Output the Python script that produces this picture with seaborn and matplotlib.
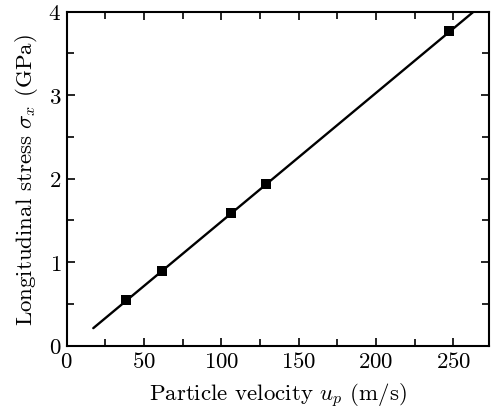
import numpy as np
import matplotlib
matplotlib.use('Agg')
import matplotlib.pyplot as plt
import seaborn as sns
import pandas as pd

# measured points
up = [38.2, 61.5, 106.3, 129.0, 247.4]
sigma = [0.55, 0.895, 1.59, 1.937, 3.77]
# fitted line end points
fit_up = [17.2, 263.0]
fit_sigma = [0.21, 4.0]

sns.set_theme(style='ticks')
plt.rcParams['font.family'] = ['cmr10', 'DejaVu Serif']
plt.rcParams['mathtext.fontset'] = 'cm'
plt.rcParams['axes.formatter.use_mathtext'] = True

fig = plt.figure(figsize=(4.91, 4.14), dpi=100)
ax = fig.add_axes([0.1358, 0.1626, 0.996 - 0.1358, 0.9693 - 0.1626])

pts = pd.DataFrame({'up': up, 'sigma': sigma})
fit = pd.DataFrame({'up': fit_up, 'sigma': fit_sigma})
sns.lineplot(data=fit, x='up', y='sigma', color='black', linewidth=1.7, ax=ax)
sns.scatterplot(data=pts, x='up', y='sigma', marker='s', s=50, color='black',
                edgecolor='black', linewidth=0, ax=ax, zorder=3)

ax.set_xlim(0, 273)
ax.set_ylim(0, 4)
ax.set_xticks([0, 50, 100, 150, 200, 250])
ax.set_xticks(np.arange(25, 275, 50), minor=True)
ax.set_yticks([0, 1, 2, 3, 4])
ax.set_yticks(np.arange(0.5, 4, 1), minor=True)
ax.tick_params(which='both', direction='in', top=True, right=True,
               labelsize=16.5, width=1.2, color='black', labelcolor='black')
ax.tick_params(which='major', length=6, pad=4)
ax.tick_params(which='minor', length=5)
for sp in ax.spines.values():
    sp.set_linewidth(1.5)
    sp.set_color('black')

ax.set_xlabel(r'Particle velocity $u_p$ (m/s)', fontsize=16.5, color='black', labelpad=7)
ax.set_ylabel(r'Longitudinal stress $\sigma_x$ (GPa)', fontsize=16.5, color='black', labelpad=6)

fig.savefig('out.png', dpi=100, facecolor='white')
